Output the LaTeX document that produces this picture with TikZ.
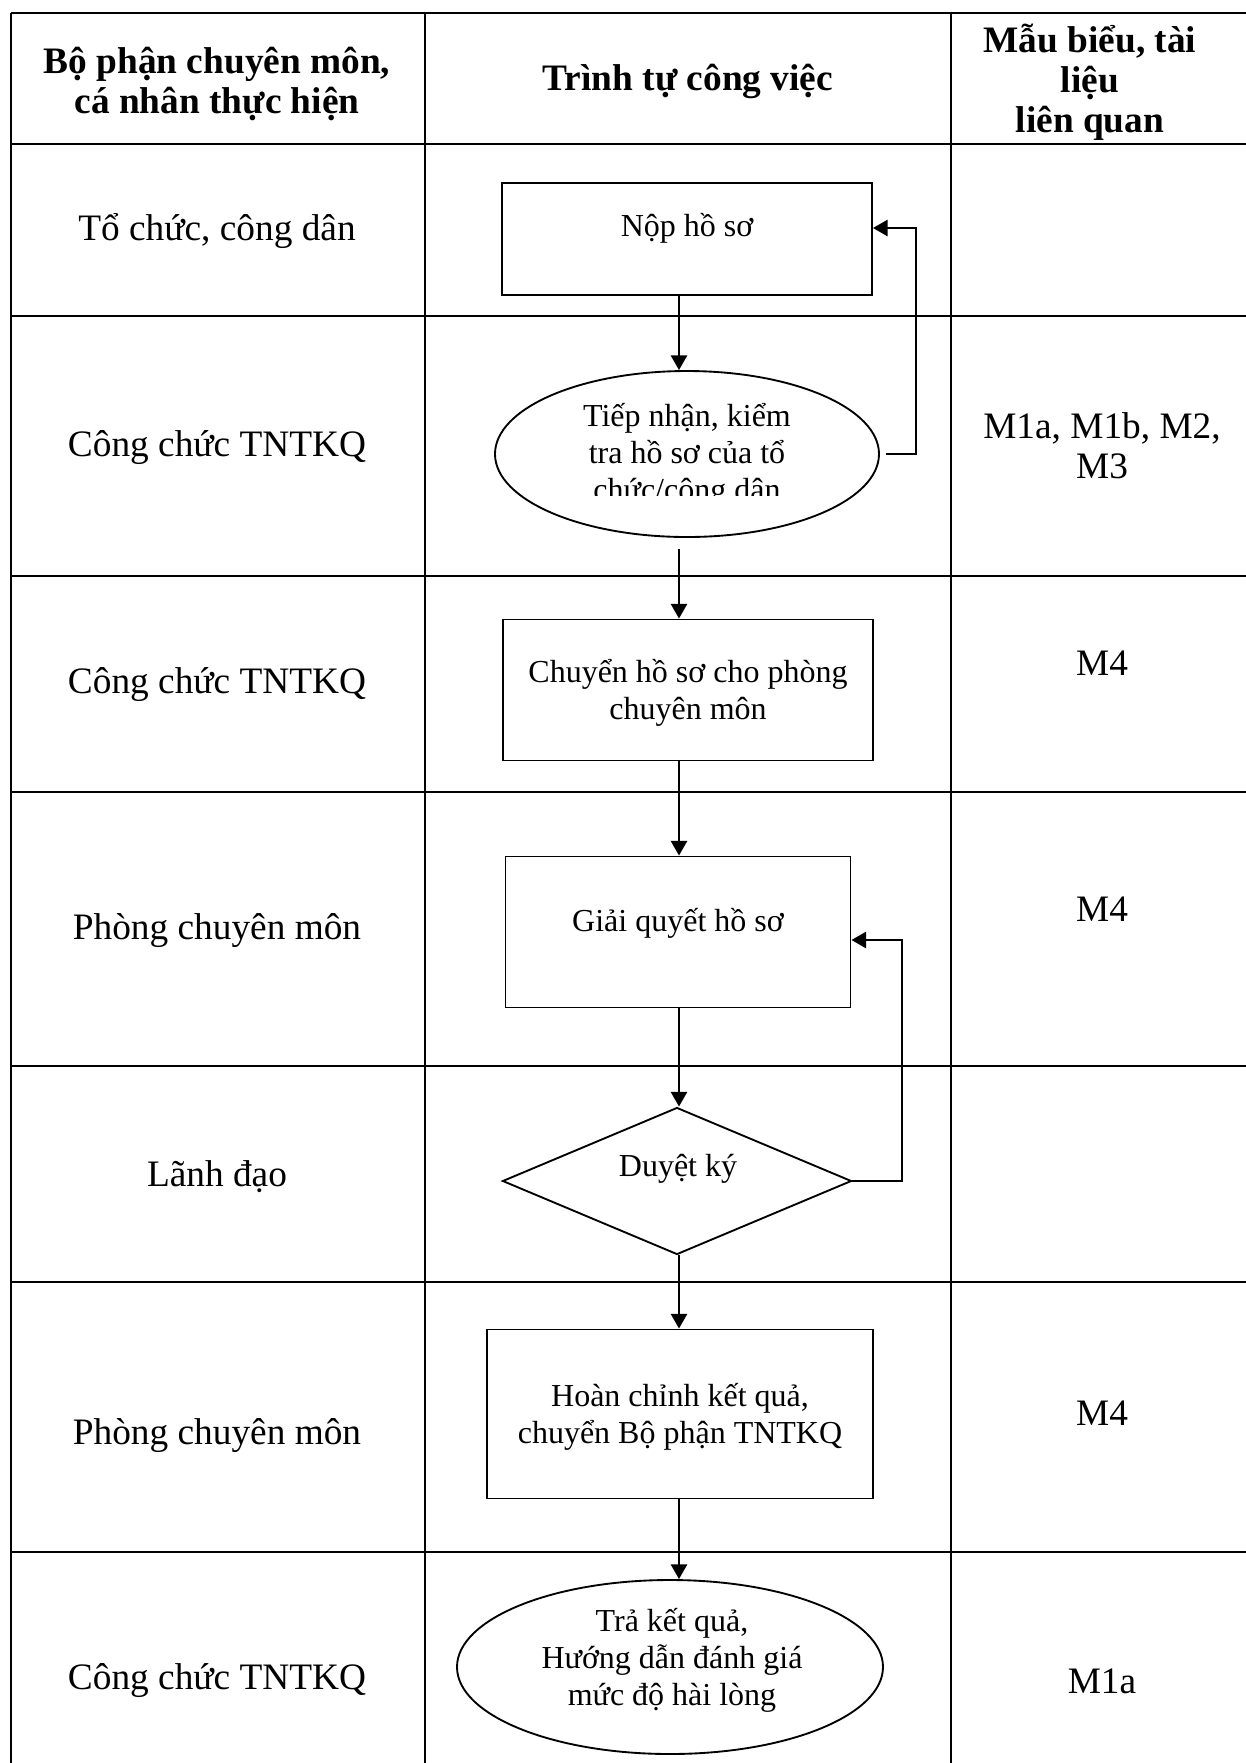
\documentclass[tikz,border=0pt]{standalone}
\usepackage{fontspec}
\setmainfont{Liberation Serif}
\usetikzlibrary{shapes.geometric,arrows.meta}
\newcommand{\pxl}{0.375pt}
\begin{document}
\begin{tikzpicture}[x=0.375pt, y=-0.375pt, >={Triangle[length=5.5pt,width=6pt]},
	tbl/.style={line width=0.75pt},
	hd/.style={font=\fontsize{14}{15}\selectfont\bfseries, align=center},
	lbl/.style={font=\fontsize{14}{15}\selectfont, align=center},
	txt/.style={font=\fontsize{12}{13.9}\selectfont, align=center},
	box/.style={draw, line width=0.7pt, inner sep=0pt},
	oval/.style={draw, ellipse, line width=0.7pt, inner sep=0pt},
	decision/.style={draw, diamond, line width=0.7pt, inner sep=0pt},
	flow/.style={->, line width=1pt}]
	\path[use as bounding box, fill=white] (0,0) rectangle (1246,1763);

	% table grid
	\draw[tbl] (11,13) -- (1246,13);
	\foreach \y in {144,316,576,792,1066,1282,1552}
	\draw[tbl] (11,\y) -- (1246,\y);
	\foreach \x in {425,951}
	\draw[tbl] (\x,13) -- (\x,1763);
	\draw[line width=1pt] (11,13) -- (11,1763);

	% header
	\node[hd] (head1) at (217,84) {Bộ phận chuyên môn,\\cá nhân thực hiện};
	\node[hd] (head2) at (688,81) {Trình tự công việc};
	\node[hd] (head3) at (1090,82) {Mẫu biểu, tài\\liệu\\liên quan};

	% who does it
	\node[lbl] (who1) at (217,231) {Tổ chức, công dân};
	\node[lbl] (who2) at (217,448) {Công chức TNTKQ};
	\node[lbl] (who3) at (217,685) {Công chức TNTKQ};
	\node[lbl] (who4) at (217,931) {Phòng chuyên môn};
	\node[lbl] (who5) at (217,1177) {Lãnh đạo};
	\node[lbl] (who6) at (217,1436) {Phòng chuyên môn};
	\node[lbl] (who7) at (217,1681) {Công chức TNTKQ};

	% forms
	\node[lbl] (form2) at (1102,446) {M1a, M1b, M2,\\M3};
	\node[lbl] (form3) at (1102,663) {M4};
	\node[lbl] (form4) at (1102,909) {M4};
	\node[lbl] (form6) at (1102,1413) {M4};
	\node[lbl] (form7) at (1102,1681) {M1a};

	% steps
	\node[box, minimum width=370*\pxl, minimum height=112*\pxl] (nop) at (687,239) {};
	\node[txt] (noptext) at (687,228) {Nộp hồ sơ};

	\node[oval, minimum width=384*\pxl, minimum height=166*\pxl] (tiep) at (687,454) {};
	\begin{scope}
		\clip (500,380) rectangle (880,495);
		\node[txt] (tieptext) at (687,455) {Tiếp nhận, kiểm\\tra hồ sơ của tổ\\chức/công dân};
	\end{scope}

	\node[box, minimum width=370*\pxl, minimum height=141*\pxl] (chuyen) at (688,690) {};
	\node[txt] (chuyentext) at (688,693) {Chuyển hồ sơ cho phòng\\chuyên môn};

	\node[box, minimum width=345*\pxl, minimum height=151*\pxl] (giai) at (678,932) {};
	\node[txt] (giaitext) at (678,923) {Giải quyết hồ sơ};

	\node[decision, minimum width=349*\pxl, minimum height=147*\pxl] (duyet) at (677,1181) {};
	\node[txt] (duyettext) at (678,1169) {Duyệt ký};

	\node[box, minimum width=386*\pxl, minimum height=169*\pxl] (hoan) at (680,1414) {};
	\node[txt] (hoantext) at (680,1417) {Hoàn chỉnh kết quả,\\chuyển Bộ phận TNTKQ};

	\node[oval, minimum width=426*\pxl, minimum height=174*\pxl] (tra) at (670,1667) {};
	\begin{scope}
		\clip (460,1590) rectangle (880,1711);
		\node[txt] (tratext) at (672,1660) {Trả kết quả,\\Hướng dẫn đánh giá\\mức độ hài lòng};
	\end{scope}

	% arrows
	\coordinate (spine) at (679,0);
	\draw[flow] (nop.south -| spine) -- (tiep.north -| spine);
	\draw[flow] (tiep.south -| spine) ++(0,11) -- (chuyen.north -| spine);
	\draw[flow] (chuyen.south -| spine) -- (giai.north -| spine);
	\draw[flow] (giai.south -| spine) -- (duyet.north -| spine);
	\draw[flow] (duyet.south -| spine) -- (hoan.north -| spine);
	\draw[flow] (hoan.south -| spine) -- (tra.north -| spine);

	% back loops
	\coordinate (backA) at (916,228);
	\draw[flow] (tiep.east) ++(6,0) -| (backA) -- (backA -| nop.east);
	\coordinate (backB) at (902,940);
	\draw[flow] (duyet.east) -| (backB) -- (backB -| giai.east);
\end{tikzpicture}
\end{document}
